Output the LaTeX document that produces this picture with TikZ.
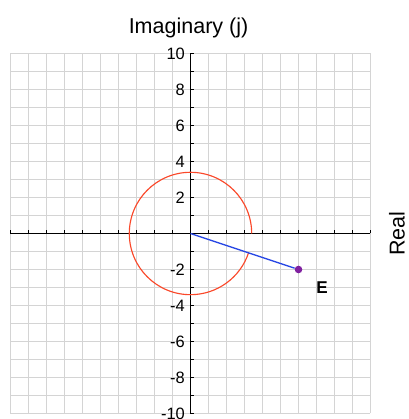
\documentclass[tikz,border=0pt]{standalone}
\usepackage{fontspec}
\setmainfont{Liberation Sans}
\usetikzlibrary{positioning}
\definecolor{gridgray}{RGB}{212,212,212}
\definecolor{ringred}{RGB}{250,72,42}
\definecolor{phasorblue}{RGB}{40,72,228}
\definecolor{tipviolet}{RGB}{128,32,160}

\begin{document}
\begin{tikzpicture}[
    x=0.5cm, y=0.5cm,
    gridline/.style={draw=gridgray, line width=1pt},
    axis/.style={draw=black, line width=1.1pt},
    ticklbl/.style={anchor=east, inner sep=0pt, font=\fontsize{13}{14}\selectfont},
    axislbl/.style={anchor=base, inner sep=0pt, font=\fontsize{17}{19}\selectfont},
    ring/.style={draw=ringred, line width=0.9pt},
    phasor/.style={draw=phasorblue, line width=1.1pt},
    tip/.style={circle, fill=tipviolet, inner sep=0pt, minimum size=6pt},
    tiplbl/.style={inner sep=0pt, font=\fontsize{13.5}{14}\selectfont\bfseries},
  ]
  \useasboundingbox (-10.583,-10.306) rectangle (12.139,12.972);
  \foreach \k in {-10,...,10} {
    \draw[gridline] (\k,-10) -- (\k,10);
    \draw[gridline] (-10,\k) -- (10,\k);
  }
  \draw[axis] (-10,0) -- (10,0);
  \draw[axis] (0,-10) -- (0,10);
  \foreach \k in {-10,...,10} {
    \draw[axis] (\k,0) -- (\k,0.22);
    \draw[axis] (0,\k) -- (0.22,\k);
  }
  \foreach \k in {-10,-8,-6,-4,-2,2,4,6,8,10}
    \node[ticklbl] (lbl\k) at (-0.3,\k) {\k};

  \node[axislbl] (imag) at (-0.11,11.12) {Imaginary (j)};
  \node[axislbl, rotate=90] (real) at (11.9,0) {Real};

  \draw[ring] (3.4,0) arc[start angle=0, end angle=341.57, radius=3.4];

  \coordinate (O) at (0,0);
  \node[tip] (E) at (6,-2) {};
  \draw[phasor] (O) -- (E);
  \node[tiplbl, below right=0.25cm and 0.41cm of E] (Elbl) {E};
\end{tikzpicture}
\end{document}
